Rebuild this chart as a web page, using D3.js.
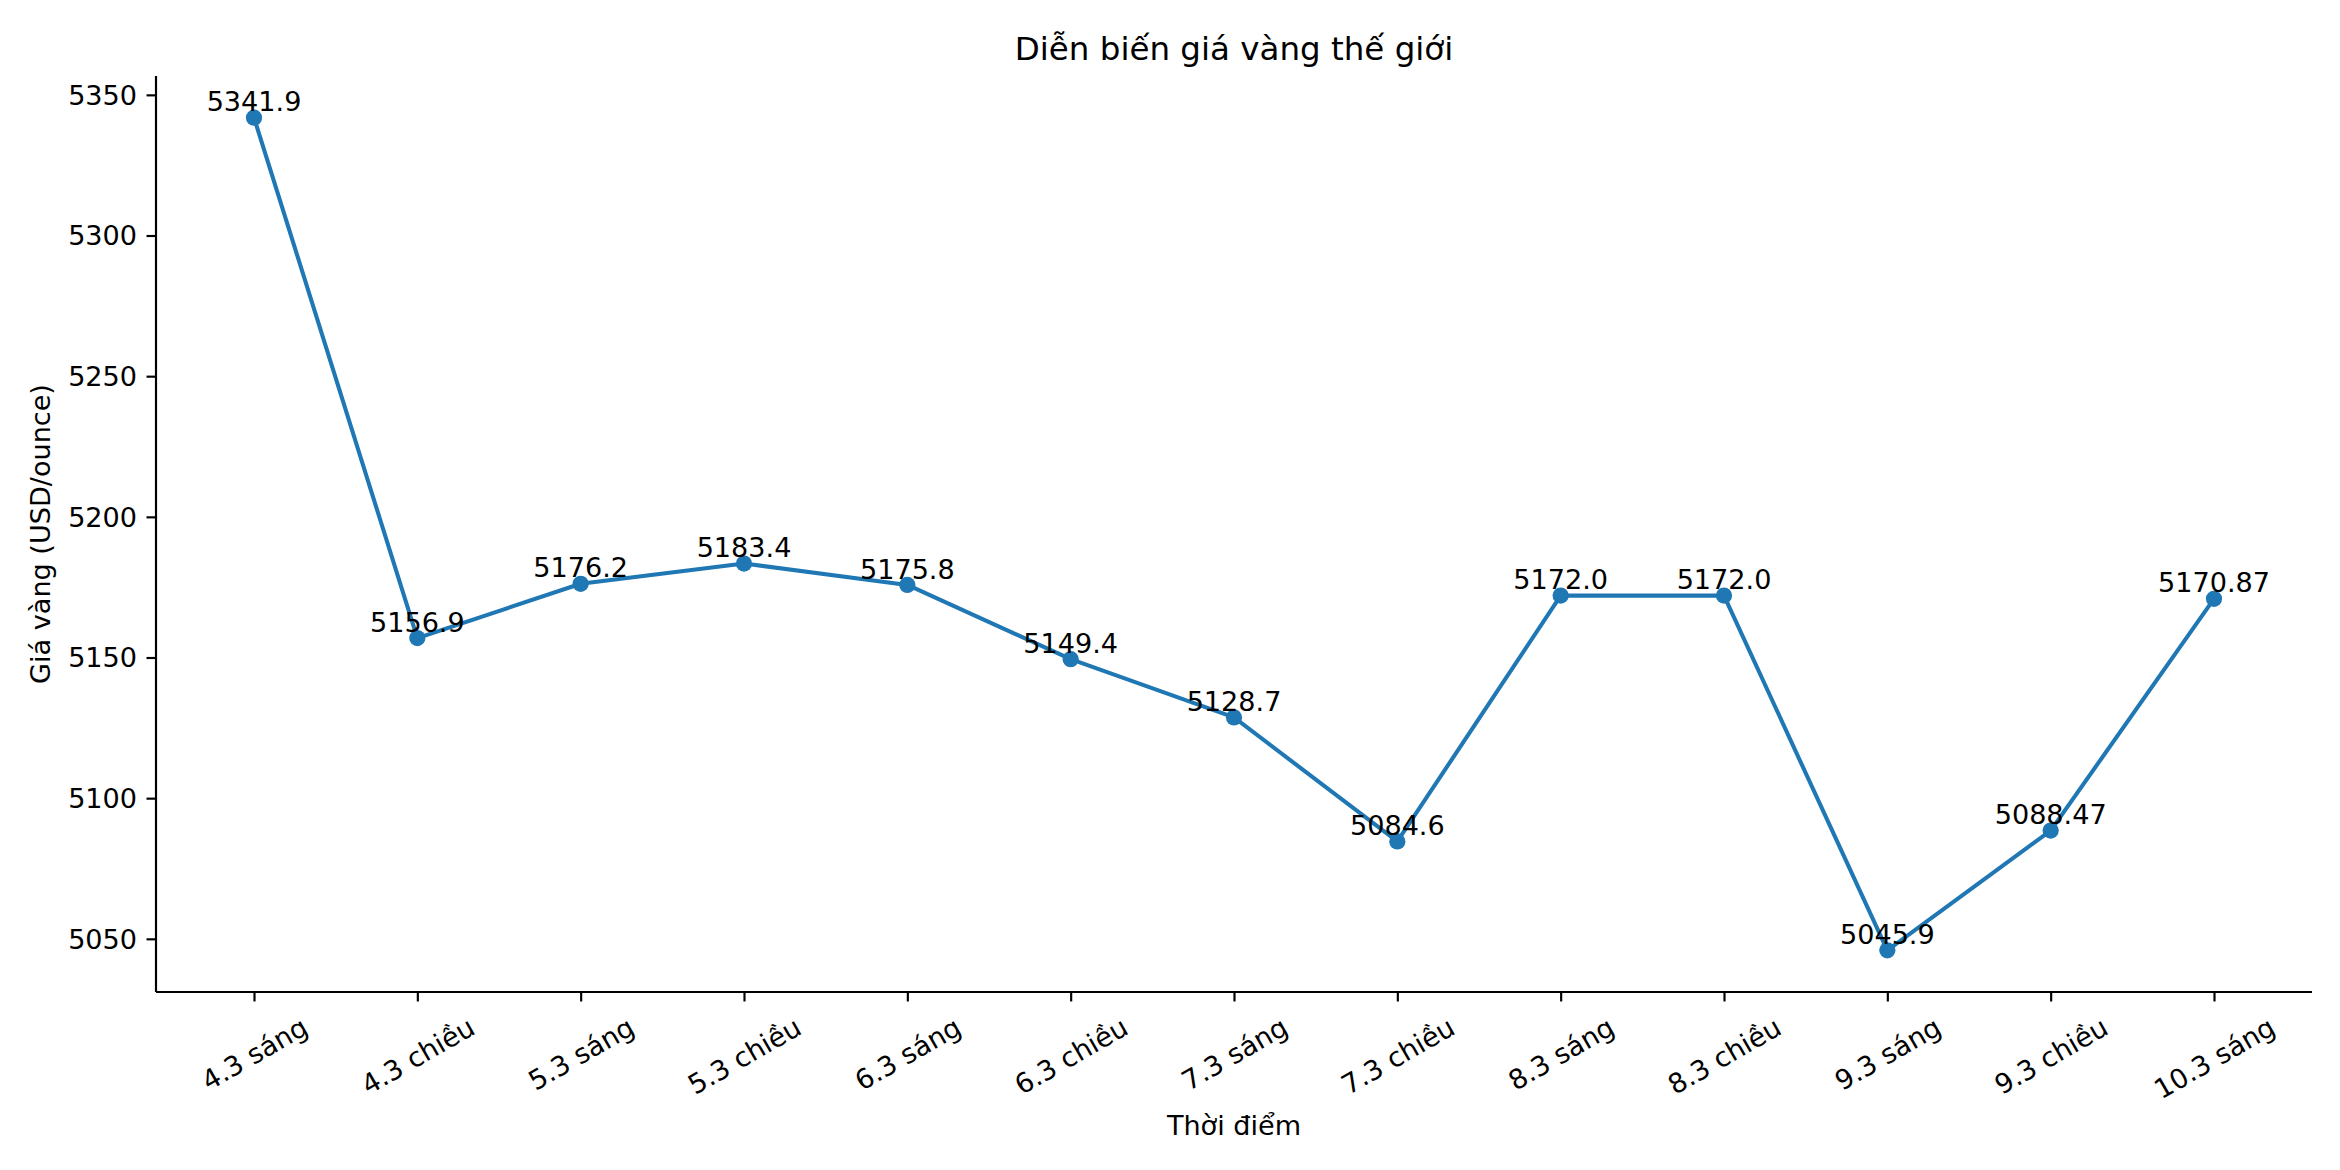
<!DOCTYPE html>
<html>
<head>
<meta charset="utf-8">
<script src="https://cdn.jsdelivr.net/npm/d3@7"></script>
<style>
  html, body { margin: 0; padding: 0; background: #fff; }
  svg { display: block; font-family: "DejaVu Sans", sans-serif; }
</style>
</head>
<body>
<svg id="chart" width="2340" height="1170"></svg>
<script>
const categories = ["4.3 sáng", "4.3 chiều", "5.3 sáng", "5.3 chiều", "6.3 sáng", "6.3 chiều",
  "7.3 sáng", "7.3 chiều", "8.3 sáng", "8.3 chiều", "9.3 sáng", "9.3 chiều", "10.3 sáng"];
const prices = [5341.9, 5156.9, 5176.2, 5183.4, 5175.8, 5149.4, 5128.7, 5084.6, 5172.0, 5172.0, 5045.9, 5088.47, 5170.87];
const yTicks = [5050, 5100, 5150, 5200, 5250, 5300, 5350];
const titleText = "Diễn biến giá vàng thế giới";
const xLabelText = "Thời điểm";
const yLabelText = "Giá vàng (USD/ounce)";

(function () {
const pt = 195 / 72;               // px per point
const plotL = 156, plotR = 2312, plotT = 76, plotB = 992;
const color = "#1f77b4";
const fs = 10 * pt;
const tickLen = 3.5 * pt, tickPad = 3.5 * pt, axW = 0.8 * pt;

const svg = d3.select("#chart");

// matplotlib-like 5% margins
const n = categories.length;
const xPad = (n - 1) * 0.05;
const x = d3.scaleLinear().domain([-xPad, (n - 1) + xPad]).range([plotL, plotR]);
const yMin = d3.min(prices), yMax = d3.max(prices);
const yPad = (yMax - yMin) * 0.05;
const y = d3.scaleLinear().domain([yMin - yPad, yMax + yPad]).range([plotB, plotT]);

function pyStr(v) { return Number.isInteger(v) ? v.toFixed(1) : String(v); }

// Y axis
const yAxis = d3.axisLeft(y).tickValues(yTicks).tickFormat(d3.format("d"))
  .tickSize(tickLen).tickPadding(tickPad);
const gy = svg.append("g").attr("transform", `translate(${plotL},0)`).call(yAxis);
gy.select(".domain").attr("stroke", "#000").attr("stroke-width", axW)
  .attr("d", `M0,${plotB}V${plotT}`);
gy.selectAll(".tick line").attr("stroke", "#000").attr("stroke-width", axW);
gy.selectAll(".tick text").attr("font-size", fs).attr("fill", "#000")
  .attr("font-family", "DejaVu Sans").attr("dy", "0.35em");

// X axis
const xAxis = d3.axisBottom(x).tickValues(d3.range(n)).tickFormat(i => categories[i])
  .tickSize(tickLen).tickPadding(tickPad);
const gx = svg.append("g").attr("transform", `translate(0,${plotB})`).call(xAxis);
gx.select(".domain").attr("stroke", "#000").attr("stroke-width", axW)
  .attr("d", `M${plotL},0H${plotR}`);
gx.selectAll(".tick line").attr("stroke", "#000").attr("stroke-width", axW);
gx.selectAll(".tick text").each(function() {
  const t = d3.select(this);
  t.attr("font-size", fs).attr("fill", "#000").attr("font-family", "DejaVu Sans")
   .attr("text-anchor", "middle").attr("dy", null).attr("y", null);
  const w = this.getComputedTextLength();
  const th = fs * 1.164;
  const bh = w * Math.sin(Math.PI / 6) + th * Math.cos(Math.PI / 6);
  const cy = tickLen + tickPad + bh / 2;
  t.attr("transform", `translate(0,${cy}) rotate(-30)`)
   .attr("dominant-baseline", "central");
});

// Line
const line = d3.line().x((d, i) => x(i)).y(d => y(d));
svg.append("path").datum(prices).attr("d", line)
  .attr("fill", "none").attr("stroke", color).attr("stroke-width", 1.5 * pt)
  .attr("stroke-linejoin", "round").attr("stroke-linecap", "square");

// Markers
svg.append("g").selectAll("circle").data(prices).join("circle")
  .attr("cx", (d, i) => x(i)).attr("cy", d => y(d)).attr("r", 3 * pt)
  .attr("fill", color);

// Value labels
svg.append("g").selectAll("text").data(prices).join("text")
  .attr("x", (d, i) => x(i)).attr("y", d => y(d) - fs * 0.236)
  .attr("text-anchor", "middle").attr("font-size", fs).attr("fill", "#000")
  .text(d => pyStr(d));

// Title
svg.append("text").attr("x", (plotL + plotR) / 2).attr("y", plotT - 6 * pt)
  .attr("text-anchor", "middle").attr("font-size", 12 * pt).attr("fill", "#000")
  .text(titleText);

// X label
svg.append("text").attr("x", (plotL + plotR) / 2).attr("y", 1135)
  .attr("text-anchor", "middle").attr("font-size", fs).attr("fill", "#000")
  .text(xLabelText);

// Y label
svg.append("text").attr("transform", `translate(50,${(plotT + plotB) / 2}) rotate(-90)`)
  .attr("text-anchor", "middle").attr("font-size", fs).attr("fill", "#000")
  .text(yLabelText);
})();
</script>
</body>
</html>
